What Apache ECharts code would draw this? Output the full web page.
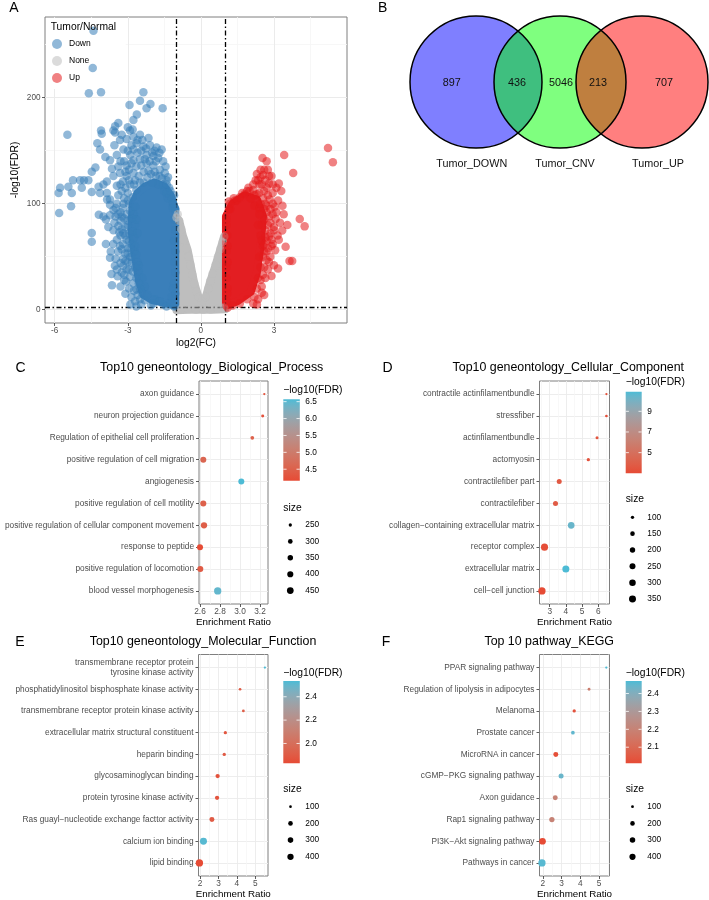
<!DOCTYPE html>
<html><head><meta charset="utf-8">
<script src="https://cdn.jsdelivr.net/npm/echarts@6/dist/echarts.min.js"></script>
<style>html,body{margin:0;padding:0;background:#fff}#c{width:709px;height:900px}</style>
</head><body><div id="c"></div>
<script>
const FONT = 'Liberation Sans, Arial, Helvetica, sans-serif';

// ================= Panel A : volcano =================
const volcanoGroups = ['Down', 'None', 'Up'];
const downPts = [
[-4.41,263],[-4.44,228],[-4.6,204],[-4.1,205],[-2.36,205],[-2.93,193],[-2.5,197],[-2.23,190],[-2.07,194],[-1.57,190],
[-2.63,184],[-2.77,179],[-3.39,176],[-3.52,173],[-3.59,169],[-4.1,169],[-4.07,166],[-5.48,165],[-2.91,169],[-2.5,165],
[-4.25,157],[-4.14,151],[-3.92,144],[-4.33,134],[-4.48,130],[-4.8,122],[-4.62,122],[-4.96,122],[-5.25,122],[-5.44,116],
[-5.78,115],[-5.84,110],[-5.3,110],[-4.89,115],[-4.48,111],[-5.33,97.6],[-5.82,91.3],[-4.2,116],[-3.85,104],[-4.19,89.6],
[-3.9,85],[-4.48,72.3],[-4.48,64],[-3.73,49],[-3.53,41.5],[-3.67,33.6],[-3.65,23],[-3.42,31.6],[-3.19,41.5],[-3.07,26.6],
[-3.52,167],[-3.32,160],[-3.05,161],[-2.77,163],[-2.64,157],[-2.36,154],[-2.09,155],[-1.82,153],[-1.61,151],[-2.23,146],
[-2.77,151],[-3.18,151],[-3.73,141],[-3.45,146],[-3.39,135],[-3.05,136],[-2.77,141],[-2.5,142],[-2.23,138],[-1.95,136],
[-1.68,132],[-1.48,129],[-1.41,122],[-3.32,129],[-3.59,126],[-3.05,126],[-2.77,129],[-3.86,121],[-4.0,118],[-3.45,117],
[-2.35,130],[-2.05,128],[-1.6,124],[-1.55,140],[-1.95,145],[-2.5,120],[-2.2,125],[-2.65,113],[-2.9,118],[-3.15,140],
[-2.9,146],[-2.6,148],[-2.45,136],[-2.0,148],[-1.75,143],[-1.85,126],[-2.95,132],[-3.2,121],[-2.7,122],[-1.5,112],
[-1.3,115],[-1.2,106],[-2.85,155],[-3.0,172],[-2.4,160],[-2.15,162],[-1.45,135],[-1.35,125],[-3.55,155],[-3.65,133],
[-3.25,112],[-4.14,110],[-3.86,110],[-3.73,104],[-3.39,108],[-3.18,100],[-3.59,94],[-3.73,89],[-4.0,88],[-3.25,88],
[-3.39,79],[-3.59,75],[-3.18,72],[-3.45,66],[-3.05,66],[-3.32,60],[-3.73,99],[-3.5,96],[-3.3,92],[-3.05,90],
[-3.0,84],[-3.3,84],[-3.55,82],[-3.8,78],[-3.1,78],[-3.3,70],[-3.6,62],[-3.0,58],[-3.9,62],[-2.95,100],
[-2.95,72],[-3.15,105],[-3.0,110],[-3.11,53],[-2.91,50],[-2.84,44],[-3.05,38],[-3.25,35],[-2.91,31],[-2.77,25],
[-2.64,19],[-2.43,16],[-2.3,9],[-1.95,6],[-1.54,5],[-1.41,3],[-3.2,48],[-3.4,55],[-3.0,45],[-3.7,55],
[-2.75,55],[-2.6,45],[-2.55,36],[-2.4,30],[-2.3,22],[-2.2,14],[-1.9,10],[-1.7,8],[-1.25,6],[-1.1,3],
[-2.85,62],[-2.8,36],[-2.65,30],[-3.3,44],[-2.5,10],[-2.05,4],[-1.1,108],[-1.05,95],[-1.08,85],[-1.05,75],
[-1.1,65],[-1.05,55],[-1.08,45],[-1.05,35],[-1.1,25],[-1.05,15],[-1.2,12],[-1.15,20],
[-2.95,20],[-2.85,12],[-2.7,8],[-2.6,14],[-2.75,18],[-2.5,20],[-2.45,5],[-2.65,3],[-3.1,15],[-2.9,5],
[-3.3,22],[-3.15,28],[-2.55,25],[-3.15,33],[-2.95,38],[-2.7,40],[-3.1,46],[-2.85,50],[-2.65,52],[-3.0,53],
[-3.25,57],[-2.7,60],[-2.55,42],[-3.45,38],[-2.9,58],[-3.5,48],[-3.2,62],[-2.95,65],[-2.75,68],[-3.1,70],
[-2.8,74],[-3.25,76],[-2.7,80],[-3.0,80],[-2.85,86],[-3.15,86],[-2.75,90],[-3.4,90],[-2.9,93],[-3.2,96],
[-2.7,97],[-3.45,100],[-3.0,103],[-2.8,106],[-3.35,73],[-3.5,88],[-2.65,85],[-2.6,72],[-3.3,118],[-3.1,115],
[-2.95,122],[-2.75,118],[-2.55,126],[-2.35,120],[-2.15,131],[-1.9,130],[-1.7,126],[-1.55,118],[-1.75,118],[-2.0,120],
[-2.3,142],[-2.1,140],[-1.85,140],[-2.65,135],[-2.85,138],[-3.1,130],[-3.3,140],[-3.0,150],[-2.45,150],[-2.25,152],
[-1.9,150],[-2.6,160],[-3.25,165],[-2.8,170],[-1.7,148],[-1.4,118],[-1.25,112],[-1.15,100],[-1.35,105],[-1.15,96],
[-1.4,110]
];
const upPts = [
[5.22,152.5],[5.42,139],[3.42,146],[2.53,143],[3.79,129],[2.75,132],[2.55,127],[2.9,126],[3.2,119],[2.8,119],
[2.83,104],[3.17,103],[3.03,97],[4.06,85.5],[4.26,78.6],[3.07,85.5],[3.34,74.6],[2.8,69],[3.48,59.4],[3.2,66],
[3.75,46],[3.64,46],[3.17,38.8],[2.9,31.8],[2.7,47],[1.46,103],[1.8,109],[2.15,113],[2.29,109],[2.6,112],
[2.4,118],[2.65,100],[2.7,92],[2.95,110],[2.95,90],[2.75,80],[2.65,75],[2.9,60],[2.7,55],[2.6,40],
[2.75,38],[2.45,28],[2.5,22],[2.3,20],[2.2,12],[1.9,10],[1.6,6],[1.3,4],[1.1,2],[1.15,95],
[1.05,80],[1.1,60],[1.05,40],[1.1,20],[1.4,103],[2.05,105],[2.2,98],[2.4,96],[2.55,60],[3.0,75],
[2.85,50],[2.35,10],[1.95,115],[2.45,125],[3.05,56],[2.6,14],[2.65,30],[3.35,98],[3.1,115],[2.25,122],
[2.5,118],[2.7,115],[2.95,100],[3.1,92],[2.8,88],[2.6,95],[3.25,82],[3.0,78],[2.85,72],[3.15,70],
[2.7,65],[2.95,62],[2.6,55],[2.8,45],[3.0,42],[2.55,50],[2.45,70],[2.5,80],[3.4,90],[3.55,80],
[2.35,122],[2.15,118],[1.9,112],[1.6,106],[1.2,95],[1.15,102],[2.6,132],[3.3,112],[2.65,122],[1.05,85],
[1.08,70],[1.05,55],[1.1,45],[1.05,30],[1.08,15],[1.05,8],
[2.35,30],[2.45,40],[2.55,33],[2.4,50],[2.5,65],[2.6,85],[2.55,105],[2.75,108],[2.85,95],[2.7,98],
[2.45,100],[2.4,110],[2.2,108],[2.0,112],[1.7,110],[1.35,105],[1.2,100],[2.8,126],[2.95,118],[2.45,132],
[2.7,140],[2.3,128],[2.85,82],[2.65,68],[2.9,66],[2.75,58],[2.6,62],[2.35,80],[2.4,90],[2.5,16],
[2.3,5],[2.15,6]
];
const nonePts = [
[-0.89,84],[-0.8,76],[-0.7,66],[-0.6,58],[-0.5,50],[-0.42,42],[-0.35,33],[-0.27,25],[-0.18,17],[-0.08,12],
[0.05,8],[0.18,12],[0.3,20],[0.38,27],[0.48,34],[0.6,42],[0.7,50],[0.8,57],[0.9,64],[0.96,69],
[-0.8,1],[-0.5,0.5],[-0.2,0],[0.1,0],[0.4,0.3],[0.7,1],[0.95,2],[-1.0,87],[-0.95,90]
];
// outlines of the saturated (over-plotted) regions of each group
const downCore = [[-2.8,100],[-2.6,110],[-2.3,116],[-1.9,120],[-1.5,116],[-1.25,108],[-1.05,95],[-1.05,4],[-1.4,6],[-2.0,9],[-2.35,14],[-2.55,28],[-2.7,50],[-2.85,75]];
const upCore = [[1.03,88],[1.3,100],[1.8,108],[2.3,104],[2.55,88],[2.45,60],[2.3,35],[2.05,17],[1.5,8],[1.03,4]];
const noneCore = [[-1.0,-0.5],[-1.0,87],[-0.89,84],[-0.74,70],[-0.54,56],[-0.41,41],[-0.27,25],[-0.1,12],[0.05,8],[0.2,12],[0.36,25],[0.59,41],[0.8,57],[0.94,68],[1.0,70],[1.0,0.5],[0.5,0],[0,0],[-0.5,0]];
const fcCut = 1, fdrCut = 2;
const xTicksA = [-6, -3, 0, 3], xMinorA = [-4.5, -1.5, 1.5, 4.5];
const yTicksA = [0, 100, 200], yMinorA = [50, 150, 250];

// ================= Panel B : Venn =================
const vennSets = ['Tumor_DOWN', 'Tumor_CNV', 'Tumor_UP'];
const vennCounts = [897, 436, 5046, 213, 707];

// ================= Panel C =================
const catC = ['axon guidance','neuron projection guidance','Regulation of epithelial cell proliferation','positive regulation of cell migration','angiogenesis','positive regulation of cell motility','positive regulation of cellular component movement','response to peptide','positive regulation of locomotion','blood vessel morphogenesis'];
const ratioC = [3.243,3.227,3.123,2.633,3.013,2.633,2.64,2.6,2.603,2.777];
const fdrC = [4.3,4.25,4.5,4.6,6.57,4.5,4.45,4.16,4.4,6.45];
const sizeC = [240,245,262,390,388,392,413,392,390,510];
const xTicksC = [2.6,2.8,3.0,3.2], xMinorC = [2.7,2.9,3.1];
const colorBreaksC = [4.5,5.0,5.5,6.0,6.5], sizeBreaksC = [250,300,350,400,450];

// ================= Panel D =================
const catD = ['contractile actinfilamentbundle','stressfiber','actinfilamentbundle','actomyosin','contractilefiber part','contractilefiber','collagen\u2212containing extracellular matrix','receptor complex','extracellular matrix','cell\u2212cell junction'];
const ratioD = [6.51,6.51,5.93,5.39,3.59,3.36,4.33,2.68,4.0,2.52];
const fdrD = [3.3,3.2,3.5,3.4,3.7,3.8,10.4,3.1,10.9,3.0];
const sizeD = [88,90,94,100,175,178,318,360,355,386];
const xTicksD = [3,4,5,6], xMinorD = [2.5,3.5,4.5,5.5,6.5];
const colorBreaksD = [5,7,9], sizeBreaksD = [100,150,200,250,300,350];

// ================= Panel E =================
const catE = ['transmembrane receptor protein\ntyrosine kinase activity','phosphatidylinositol bisphosphate kinase activity','transmembrane receptor protein kinase activity','extracellular matrix structural constituent','heparin binding','glycosaminoglycan binding','protein tyrosine kinase activity','Ras guayl\u2212nucleotide exchange facttor activity','calcium ion binding','lipid binding'];
const ratioE = [5.52,4.17,4.35,3.37,3.31,2.95,2.92,2.64,2.18,1.96];
const fdrE = [2.535,1.9,1.92,1.88,1.9,1.86,1.87,1.9,2.52,1.83];
const sizeE = [97,100,102,116,118,173,170,234,513,570];
const xTicksE = [2,3,4,5], xMinorE = [2.5,3.5,4.5,5.5];
const colorBreaksE = [2.0,2.2,2.4], sizeBreaksE = [100,200,300,400];

// ================= Panel F =================
const catF = ['PPAR signaling pathway','Regulation of lipolysis in adipocytes','Melanoma','Prostate cancer','MicroRNA in cancer','cGMP\u2212PKG signaling pathway','Axon guidance','Rap1 signaling pathway','PI3K\u2212Akt signaling pathway','Pathways in cancer'];
const ratioF = [5.38,4.46,3.67,3.6,2.69,2.97,2.66,2.48,1.98,1.95];
const fdrF = [2.47,2.18,2.03,2.45,2.02,2.44,2.2,2.2,2.01,2.46];
const sizeF = [95,100,115,135,240,242,238,277,484,600];
const xTicksF = [2,3,4,5], xMinorF = [2.5,3.5,4.5,5.5];
const colorBreaksF = [2.1,2.2,2.3,2.4], sizeBreaksF = [100,200,300,400];

// ================= helpers =================
const LOW = '#E64B35', HIGH = '#4DBBD5';
function hex2rgb(h){return [parseInt(h.slice(1,3),16),parseInt(h.slice(3,5),16),parseInt(h.slice(5,7),16)];}
function s2l(c){c/=255;return c<=0.04045?c/12.92:Math.pow((c+0.055)/1.055,2.4);}
function l2s(c){c=c<=0.0031308?12.92*c:1.055*Math.pow(c,1/2.4)-0.055;return Math.round(Math.max(0,Math.min(1,c))*255);}
function rgb2lab(rgb){const [r,g,b]=rgb.map(s2l);
  const x=(r*0.4124+g*0.3576+b*0.1805)/0.95047,y=r*0.2126+g*0.7152+b*0.0722,z=(r*0.0193+g*0.1192+b*0.9505)/1.08883;
  const f=t=>t>0.008856?Math.cbrt(t):7.787*t+16/116;const fx=f(x),fy=f(y),fz=f(z);
  return [116*fy-16,500*(fx-fy),200*(fy-fz)];}
function lab2rgb(L){const fy=(L[0]+16)/116,fx=fy+L[1]/500,fz=fy-L[2]/200;
  const fi=t=>t*t*t>0.008856?t*t*t:(t-16/116)/7.787;
  const x=fi(fx)*0.95047,y=fi(fy),z=fi(fz)*1.08883;
  return [l2s(x*3.2406-y*1.5372-z*0.4986),l2s(-x*0.9689+y*1.8758+z*0.0415),l2s(x*0.0557-y*0.2040+z*1.0570)];}
const labLo = rgb2lab(hex2rgb(LOW)), labHi = rgb2lab(hex2rgb(HIGH));
function colAt(t){t=Math.max(0,Math.min(1,t));const c=lab2rgb([0,1,2].map(i=>labLo[i]+(labHi[i]-labLo[i])*t));return 'rgb('+c.join(',')+')';}
function sizePx(v, dom){let t=(v-dom[0])/(dom[1]-dom[0]);t=Math.max(0,Math.min(1,t));return 2.3+5*Math.sqrt(t);}
const ext = a => [Math.min.apply(null,a), Math.max.apply(null,a)];

const TICKC = '#4D4D4D', MAJ = '#EBEBEB', MIN = '#F5F5F5', BORDER = '#7F7F7F';
const LAB = 8.3; // axis / legend text size

// ================= panel layouts =================
const panels = [
 {cats:catC, ratio:ratioC, fdr:fdrC, size:sizeC, xt:xTicksC, xm:xMinorC, cb:colorBreaksC, sb:sizeBreaksC, dec:1, cbDec:1,
  grid:{left:199,top:381,width:69,height:223}, xr:[2.59,3.28], title:'Top10 geneontology_Biological_Process', tx:211.7, ty:368, letter:'C', lx:20.5, ly:368,
  leg:{x:283.3, titleY:390, barY:399.3, barH:81.4, barW:16.5, labX:305.3, sTitleY:507.7, sY0:525, sStep:16.4, dotX:290.3}},
 {cats:catD, ratio:ratioD, fdr:fdrD, size:sizeD, xt:xTicksD, xm:xMinorD, cb:colorBreaksD, sb:sizeBreaksD, dec:0, cbDec:0,
  grid:{left:539.5,top:381,width:70,height:223}, xr:[2.37,6.7], title:'Top10 geneontology_Cellular_Component', tx:568.3, ty:368, letter:'D', lx:387.5, ly:368,
  leg:{x:625.7, titleY:382.3, barY:391.7, barH:81.6, barW:16, labX:647.3, sTitleY:499, sY0:517.3, sStep:16.35, dotX:632.5}},
 {cats:catE, ratio:ratioE, fdr:fdrE, size:sizeE, xt:xTicksE, xm:xMinorE, cb:colorBreaksE, sb:sizeBreaksE, dec:0, cbDec:1,
  grid:{left:198.5,top:654.5,width:69.5,height:222}, xr:[1.91,5.69], title:'Top10 geneontology_Molecular_Function', tx:203, ty:641.7, letter:'E', lx:20, ly:641.7,
  leg:{x:283.3, titleY:672.7, barY:681, barH:82.3, barW:16.5, labX:305.3, sTitleY:789.3, sY0:806.7, sStep:16.7, dotX:290.5}},
 {cats:catF, ratio:ratioF, fdr:fdrF, size:sizeF, xt:xTicksF, xm:xMinorF, cb:colorBreaksF, sb:sizeBreaksF, dec:0, cbDec:1,
  grid:{left:539.5,top:654.5,width:70,height:222}, xr:[1.82,5.55], title:'Top 10 pathway_KEGG', tx:549.2, ty:641.7, letter:'F', lx:386, ly:641.7,
  leg:{x:625.7, titleY:672.7, barY:681, barH:82.3, barW:16, labX:647.3, sTitleY:789.3, sY0:806.7, sStep:16.7, dotX:632.5}}
];

const grids = [{left:45, top:17, width:302, height:306, show:true, borderColor:BORDER, borderWidth:1, backgroundColor:'#fff'}];
const xAxes = [], yAxes = [], series = [], graphics = [];

function txt(x, y, s, o){ graphics.push({type:'text', x:x, y:y, z:100, silent:true,
  style:Object.assign({text:s, fill:'#000', fontSize:9.8, fontFamily:FONT, align:'left', verticalAlign:'middle'}, o||{})}); }

// ---- Panel A axes ----
xAxes.push({gridIndex:0, type:'value', min:-6.4, max:6.0, position:'bottom',
  axisLine:{show:false, onZero:false}, axisTick:{show:true, length:3, customValues:xTicksA, lineStyle:{color:'#333', width:0.8}},
  axisLabel:{customValues:xTicksA, fontSize:8.2, color:TICKC, margin:4, fontFamily:FONT},
  splitLine:{show:true, lineStyle:{color:MAJ, width:1}},
  name:'log2(FC)', nameLocation:'middle', nameGap:15, nameTextStyle:{fontSize:10.3, color:'#000', fontFamily:FONT}});
xAxes.push({gridIndex:0, type:'value', min:-6.4, max:6.0, position:'top', axisLine:{show:false, onZero:false},
  axisTick:{show:false, customValues:xMinorA}, axisLabel:{show:false, customValues:xMinorA},
  splitLine:{show:true, lineStyle:{color:MIN, width:0.8}}});
yAxes.push({gridIndex:0, type:'value', min:-12.5, max:276, position:'left',
  axisLine:{show:false, onZero:false}, axisTick:{show:true, length:3, customValues:yTicksA, lineStyle:{color:'#333', width:0.8}},
  axisLabel:{customValues:yTicksA, fontSize:8.2, color:TICKC, margin:4.5, fontFamily:FONT},
  splitLine:{show:true, lineStyle:{color:MAJ, width:1}},
  name:'-log10(FDR)', nameLocation:'middle', nameRotate:90, nameGap:25, nameTextStyle:{fontSize:10.3, color:'#000', fontFamily:FONT}});
yAxes.push({gridIndex:0, type:'value', min:-12.5, max:276, position:'right', axisLine:{show:false, onZero:false},
  axisTick:{show:false, customValues:yMinorA}, axisLabel:{show:false, customValues:yMinorA},
  splitLine:{show:true, lineStyle:{color:MIN, width:0.8}}});

function coreSeries(name, verts, color){
  return {type:'custom', name:name, xAxisIndex:0, yAxisIndex:0, silent:true, data:verts, z:2,
    renderItem:function(params, api){
      if (params.dataIndex !== 0) return null;
      return {type:'polygon', shape:{points:verts.map(v=>api.coord(v))},
        style:{fill:color, stroke:color, lineWidth:8, lineJoin:'round'}};
    }};
}
series.push(coreSeries('coreNone', noneCore, '#BEBEBE'));
series.push(coreSeries('coreDown', downCore, '#3A7FBA'));
series.push(coreSeries('coreUp', upCore, '#E31E22'));
const ptColors = {Down:'#377EB8', None:'#BEBEBE', Up:'#E41A1C'};
const ptData = {Down:downPts, None:nonePts, Up:upPts};
volcanoGroups.forEach(function(g){
  series.push({type:'scatter', name:g, xAxisIndex:0, yAxisIndex:0, data:ptData[g], symbolSize:8.5, z:5,
    itemStyle:{color:ptColors[g], opacity:0.55}, silent:true});
});
series[series.length-1].markLine = {silent:true, symbol:'none', label:{show:false}, animation:false,
  lineStyle:{color:'#000', width:1.3, type:[5,2.5,1.5,2.5]},
  data:[{xAxis:-fcCut},{xAxis:fcCut},{yAxis:fdrCut}]};

txt(14, 8, 'A', {fontSize:14, align:'center'});
txt(50.7, 27, 'Tumor/Normal', {fontSize:10.3});

// ---- Panel B: Venn ----
const vennLayout = {cx:[476,560,642], cy:82, r:66,
  fills:['rgba(0,0,255,0.5)','rgba(0,255,0,0.5)','rgba(255,0,0,0.5)'],
  countX:[451.7,517,561,598,664], countY:83, nameX:[471.7,565,658], nameY:164};
series.push({type:'custom', name:'vennFill', coordinateSystem:'none', silent:true, data:vennSets,
  renderItem:function(p){const i=p.dataIndex;return {type:'circle', shape:{cx:vennLayout.cx[i], cy:vennLayout.cy, r:vennLayout.r}, style:{fill:vennLayout.fills[i]}};}});
series.push({type:'custom', name:'vennStroke', coordinateSystem:'none', silent:true, data:vennSets,
  renderItem:function(p){const i=p.dataIndex;return {type:'circle', shape:{cx:vennLayout.cx[i], cy:vennLayout.cy, r:vennLayout.r}, style:{fill:'none', stroke:'#000', lineWidth:1.5}};}});
series.push({type:'custom', name:'vennCounts', coordinateSystem:'none', silent:true, data:vennCounts,
  renderItem:function(p){const i=p.dataIndex;return {type:'text', x:vennLayout.countX[i], y:vennLayout.countY, style:{text:String(vennCounts[i]), fill:'#111', fontSize:10.8, fontFamily:FONT, align:'center', verticalAlign:'middle'}};}});
series.push({type:'custom', name:'vennNames', coordinateSystem:'none', silent:true, data:vennSets,
  renderItem:function(p){const i=p.dataIndex;return {type:'text', x:vennLayout.nameX[i], y:vennLayout.nameY, style:{text:vennSets[i], fill:'#111', fontSize:10.8, fontFamily:FONT, align:'center', verticalAlign:'middle'}};}});
txt(382.7, 8, 'B', {fontSize:14, align:'center'});

// ---- Dot plot panels ----
panels.forEach(function(P, k){
  const gi = k + 1;
  grids.push(Object.assign({show:true, borderColor:BORDER, borderWidth:1, backgroundColor:'#fff'}, P.grid));
  const fmt = v => P.dec ? Number(v).toFixed(P.dec) : String(v);
  xAxes.push({gridIndex:gi, type:'value', min:P.xr[0], max:P.xr[1], position:'bottom',
    axisLine:{show:false, onZero:false}, axisTick:{show:true, length:3, customValues:P.xt, lineStyle:{color:'#333', width:0.8}},
    axisLabel:{customValues:P.xt, formatter:fmt, fontSize:LAB, color:TICKC, margin:3.5, fontFamily:FONT},
    splitLine:{show:true, lineStyle:{color:MAJ, width:0.9}},
    name:'Enrichment Ratio', nameLocation:'middle', nameGap:13, nameTextStyle:{fontSize:9.8, color:'#000', fontFamily:FONT}});
  xAxes.push({gridIndex:gi, type:'value', min:P.xr[0], max:P.xr[1], position:'top', axisLine:{show:false, onZero:false},
    axisTick:{show:false, customValues:P.xm}, axisLabel:{show:false, customValues:P.xm},
    splitLine:{show:true, lineStyle:{color:MIN, width:0.7}}});
  const idx = P.cats.map((c,i)=>i);
  yAxes.push({gridIndex:gi, type:'value', min:-0.6, max:P.cats.length-0.4, inverse:true, position:'left',
    axisLine:{show:false, onZero:false}, axisTick:{show:true, length:3, customValues:idx, lineStyle:{color:'#333', width:0.8}},
    axisLabel:{customValues:idx, formatter:v=>P.cats[Math.round(v)], fontSize:LAB, color:TICKC, margin:5, lineHeight:9.5, fontFamily:FONT},
    splitLine:{show:true, lineStyle:{color:MAJ, width:0.9}}});
  const sdom = ext(P.size), cdom = ext(P.fdr);
  series.push({type:'scatter', name:P.title, xAxisIndex:2*gi, yAxisIndex:gi+1, silent:true, z:3,
    data:P.cats.map((c,i)=>[P.ratio[i], i, P.size[i], P.fdr[i]]),
    symbolSize:d=>sizePx(d[2], sdom),
    itemStyle:{opacity:1, color:p=>colAt((p.data[3]-cdom[0])/(cdom[1]-cdom[0]))}});
  // titles
  txt(P.tx, P.ty, P.title, {fontSize:12.4, align:'center'});
  txt(P.lx, P.ly, P.letter, {fontSize:14, align:'center'});
  // colour bar legend
  const L = P.leg;
  txt(L.x, L.titleY, '\u2212log10(FDR)', {fontSize:10.3});
  const stops = [];
  for (let s = 0; s <= 20; s++) stops.push({offset:s/20, color:colAt(s/20)});
  graphics.push({type:'rect', z:100, silent:true, shape:{x:L.x, y:L.barY, width:L.barW, height:L.barH},
    style:{fill:{type:'linear', x:0, y:1, x2:0, y2:0, colorStops:stops}}});
  P.cb.forEach(function(b){
    const yy = L.barY + L.barH - (b - cdom[0])/(cdom[1]-cdom[0]) * L.barH;
    const tw = L.barW/5;
    graphics.push({type:'line', z:101, silent:true, shape:{x1:L.x, y1:yy, x2:L.x+tw, y2:yy}, style:{stroke:'#fff', lineWidth:0.8}});
    graphics.push({type:'line', z:101, silent:true, shape:{x1:L.x+L.barW-tw, y1:yy, x2:L.x+L.barW, y2:yy}, style:{stroke:'#fff', lineWidth:0.8}});
    txt(L.labX, yy, P.cbDec ? b.toFixed(P.cbDec) : String(b), {fontSize:LAB});
  });
  // size legend
  txt(L.x, L.sTitleY, 'size', {fontSize:10.3});
  P.sb.forEach(function(s, j){
    const yy = L.sY0 + j*L.sStep;
    graphics.push({type:'circle', z:100, silent:true, shape:{cx:L.dotX, cy:yy, r:sizePx(s, sdom)/2}, style:{fill:'#000'}});
    txt(L.labX, yy, String(s), {fontSize:LAB});
  });
});

const chart = echarts.init(document.getElementById('c'), null, {renderer:'canvas'});
chart.setOption({
  animation:false,
  backgroundColor:'#fff',
  textStyle:{fontFamily:FONT},
  grid:grids, xAxis:xAxes, yAxis:yAxes, series:series, graphic:graphics,
  legend:{data:volcanoGroups, orient:'vertical', left:46, top:18, padding:[21,35,6,6], itemGap:7,
    itemWidth:14, itemHeight:10, icon:'circle', backgroundColor:'#fff', selectedMode:false,
    itemStyle:{opacity:0.55}, textStyle:{fontSize:8.5, color:'#000', fontFamily:FONT}}
});
</script></body></html>
